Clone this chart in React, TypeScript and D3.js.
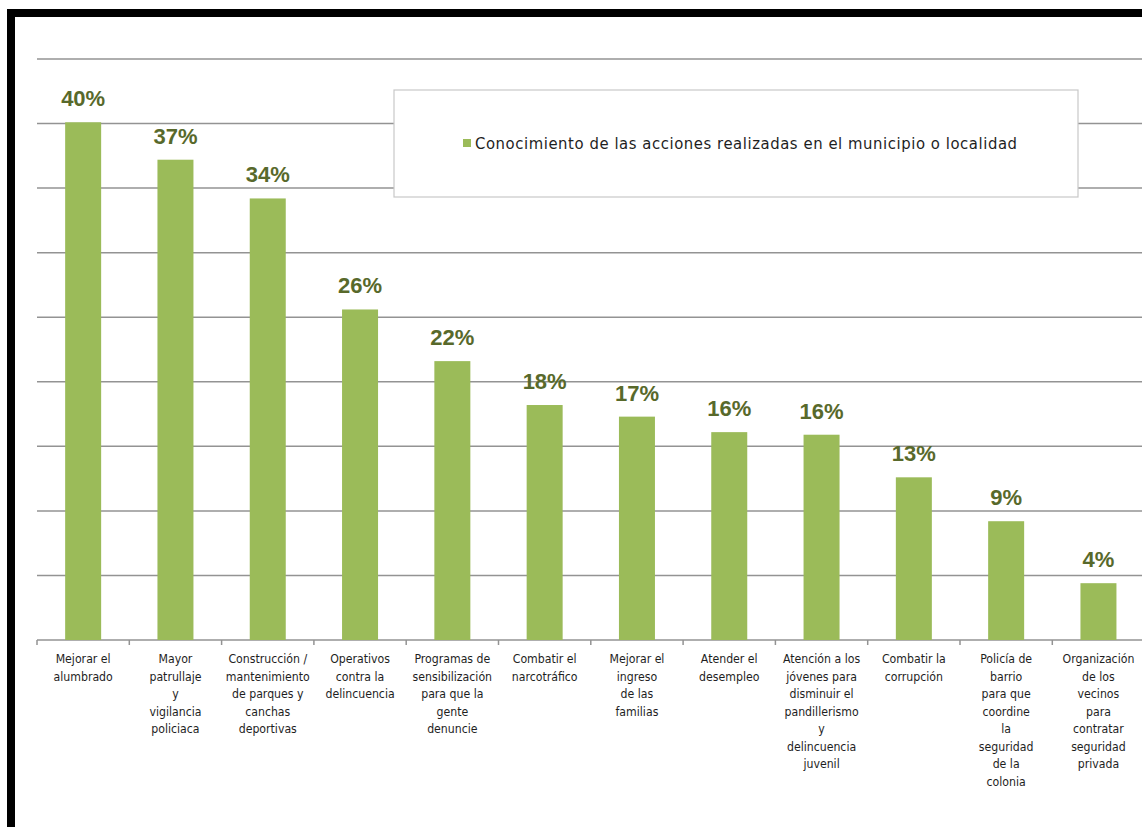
import React, { useRef, useEffect } from "react";
import * as d3 from "d3";

const categories: string[][] = [
  ["Mejorar el", "alumbrado"],
  ["Mayor", "patrullaje", "y", "vigilancia", "policiaca"],
  ["Construcción /", "mantenimiento", "de parques y", "canchas", "deportivas"],
  ["Operativos", "contra la", "delincuencia"],
  ["Programas de", "sensibilización", "para que la", "gente", "denuncie"],
  ["Combatir el", "narcotráfico"],
  ["Mejorar el", "ingreso", "de las", "familias"],
  ["Atender el", "desempleo"],
  ["Atención a los", "jóvenes para", "disminuir el", "pandillerismo", "y", "delincuencia", "juvenil"],
  ["Combatir la", "corrupción"],
  ["Policía de", "barrio", "para que", "coordine", "la", "seguridad", "de la", "colonia"],
  ["Organización", "de los", "vecinos", "para", "contratar", "seguridad", "privada"],
];

const values = [40.1, 37.2, 34.2, 25.6, 21.6, 18.2, 17.3, 16.1, 15.9, 12.6, 9.2, 4.4];
const labels = ["40%", "37%", "34%", "26%", "22%", "18%", "17%", "16%", "16%", "13%", "9%", "4%"];
const gridTicks = [5, 10, 15, 20, 25, 30, 35, 40, 45];
const seriesName = "Conocimiento de las acciones realizadas en el municipio o localidad";

const W = 1142;
const H = 827;

export default function App() {
  const svgRef = useRef<SVGSVGElement>(null);

  useEffect(() => {
    if (!svgRef.current) return;
    const svg = d3.select(svgRef.current);
    svg.selectAll("*").remove();

    const left = 37;
    const right = 1144.6;
    const top = 59;
    const bottom = 640;

    const keys = categories.map((_, i) => String(i));
    const x = d3
      .scaleBand<string>()
      .domain(keys)
      .range([left, right])
      .paddingInner(0.61)
      .paddingOuter(0.305);
    const y = d3.scaleLinear().domain([0, 45]).range([bottom, top]);

    svg.append("rect").attr("width", W).attr("height", H).attr("fill", "#fff");

    // marco negro
    svg.append("rect").attr("x", 7).attr("y", 9).attr("width", W - 7).attr("height", 8).attr("fill", "#000");
    svg.append("rect").attr("x", 7).attr("y", 9).attr("width", 8).attr("height", H - 9).attr("fill", "#000");

    // líneas de la cuadrícula
    svg
      .selectAll("line.grid")
      .data(gridTicks)
      .join("line")
      .attr("class", "grid")
      .attr("x1", left)
      .attr("x2", W)
      .attr("y1", (d) => y(d))
      .attr("y2", (d) => y(d))
      .attr("stroke", "#939393")
      .attr("stroke-width", 1.5);

    // eje x
    svg
      .append("line")
      .attr("x1", left)
      .attr("x2", W)
      .attr("y1", bottom)
      .attr("y2", bottom)
      .attr("stroke", "#939393")
      .attr("stroke-width", 1.5);

    const step = x.step();
    const tickXs = d3.range(keys.length + 1).map((i) => left + i * step);
    svg
      .selectAll("line.tick")
      .data(tickXs)
      .join("line")
      .attr("class", "tick")
      .attr("x1", (d) => d)
      .attr("x2", (d) => d)
      .attr("y1", bottom)
      .attr("y2", bottom + 5)
      .attr("stroke", "#939393")
      .attr("stroke-width", 1.5);

    // barras
    svg
      .selectAll("rect.bar")
      .data(values)
      .join("rect")
      .attr("class", "bar")
      .attr("x", (_, i) => x(keys[i])!)
      .attr("y", (d) => y(d))
      .attr("width", x.bandwidth())
      .attr("height", (d) => bottom - y(d))
      .attr("fill", "#9bbb59");

    // etiquetas de datos
    svg
      .selectAll("text.val")
      .data(values)
      .join("text")
      .attr("class", "val")
      .attr("x", (_, i) => x(keys[i])! + x.bandwidth() / 2)
      .attr("y", (d) => y(d) - 16)
      .attr("text-anchor", "middle")
      .style("font-family", "'Liberation Sans', Arial, sans-serif")
      .style("font-size", "22px")
      .style("font-weight", "bold")
      .style("fill", "#58692b")
      .text((_, i) => labels[i]);

    // etiquetas de categorías
    const catG = svg
      .selectAll("text.cat")
      .data(categories)
      .join("text")
      .attr("class", "cat")
      .attr("text-anchor", "middle")
      .style("font-family", "'DejaVu Sans Condensed', 'DejaVu Sans', sans-serif")
      .style("font-size", "12.2px")
      .style("fill", "#1e1e1e");
    catG
      .selectAll("tspan")
      .data((d, i) => d.map((line) => ({ line, i })))
      .join("tspan")
      .attr("x", (d) => x(keys[d.i])! + x.bandwidth() / 2)
      .attr("y", (_, j) => 663 + j * 17.5)
      .text((d) => d.line);

    // leyenda
    svg
      .append("rect")
      .attr("x", 394)
      .attr("y", 90)
      .attr("width", 684)
      .attr("height", 107)
      .attr("fill", "#fff")
      .attr("stroke", "#c8c8c8")
      .attr("stroke-width", 1.2);
    svg.append("rect").attr("x", 463).attr("y", 139).attr("width", 8).attr("height", 8).attr("fill", "#9bbb59");
    svg
      .append("text")
      .attr("x", 475)
      .attr("y", 149)
      .attr("textLength", 542)
      .attr("lengthAdjust", "spacing")
      .style("font-family", "'DejaVu Sans Condensed', 'DejaVu Sans', sans-serif")
      .style("font-size", "16.5px")
      .style("fill", "#1e1e1e")
      .text(seriesName);
  }, []);

  return (
    <div style={{ position: "absolute", left: 0, top: 0 }}>
      <svg ref={svgRef} width={W} height={H} viewBox={`0 0 ${W} ${H}`} style={{ display: "block" }} />
    </div>
  );
}
